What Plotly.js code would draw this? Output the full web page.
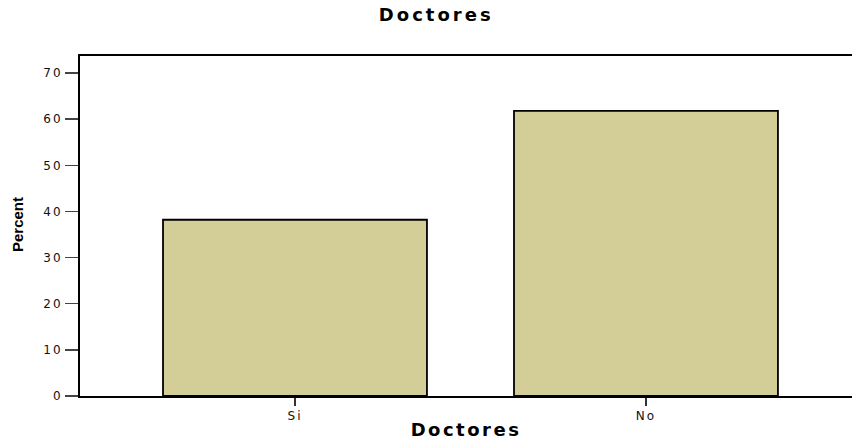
<!DOCTYPE html>
<html>
<head>
<meta charset="utf-8">
<script src="https://cdn.plot.ly/plotly-3.0.1.min.js"></script>
<style>
  html, body { margin: 0; padding: 0; background: #fff; }
  #chart { width: 852px; height: 441px; }
  .xtick text, .ytick text { letter-spacing: 2px; }
  .xtitle { letter-spacing: 2.5px; }
  .gtitle { letter-spacing: 3px; }
</style>
</head>
<body>
<div id="chart"></div>
<script>
const categories = ["Si", "No"];
const percentValues = [38.2, 61.8];
const chartTitle = "Doctores";
const xTitle = "Doctores";
const yTitle = "Percent";
const yTickValues = [0, 10, 20, 30, 40, 50, 60, 70];

const trace = {
  type: "bar",
  x: categories,
  y: percentValues,
  width: 0.752,
  marker: { color: "#D3CE98", line: { color: "#000", width: 1.8 } },
  hoverinfo: "x+y"
};

const layout = {
  width: 852,
  height: 441,
  margin: { l: 80, r: 0, t: 56, b: 45 },
  paper_bgcolor: "#fff",
  plot_bgcolor: "#fff",
  showlegend: false,
  title: {
    text: chartTitle,
    font: { family: "DejaVu Sans", size: 18, color: "#000", weight: "bold" },
    xref: "container", x: 0.512, xanchor: "center",
    yref: "container", y: 1 - 15 / 441, yanchor: "middle"
  },
  xaxis: {
    type: "category",
    range: [-0.6125, 1.587],
    showline: true, linecolor: "#000", linewidth: 2, mirror: true,
    ticks: "outside", ticklen: 8, tickwidth: 1.5, tickcolor: "#333",
    showgrid: false, zeroline: false,
    tickfont: { family: "DejaVu Sans", size: 12, color: "#111" },
    title: {
      text: xTitle, standoff: 1,
      font: { family: "DejaVu Sans", size: 18, color: "#000", weight: "bold" }
    }
  },
  yaxis: {
    range: [0, 73.7],
    tickvals: yTickValues,
    showline: true, linecolor: "#000", linewidth: 2,
    ticks: "outside", ticklen: 13, tickwidth: 1.5, tickcolor: "#444",
    showgrid: false, zeroline: false,
    tickfont: { family: "DejaVu Sans", size: 12, color: "#111" }
  },
  annotations: [{
    text: yTitle,
    xref: "paper", yref: "paper",
    x: (17 - 80) / 772, y: (396 - 225) / 340,
    xanchor: "center", yanchor: "middle",
    textangle: -90, showarrow: false,
    font: { family: "Liberation Sans, Arial, sans-serif", size: 15, color: "#000", weight: "bold" }
  }]
};

Plotly.newPlot("chart", [trace], layout, { displayModeBar: false, staticPlot: true });
</script>
</body>
</html>
